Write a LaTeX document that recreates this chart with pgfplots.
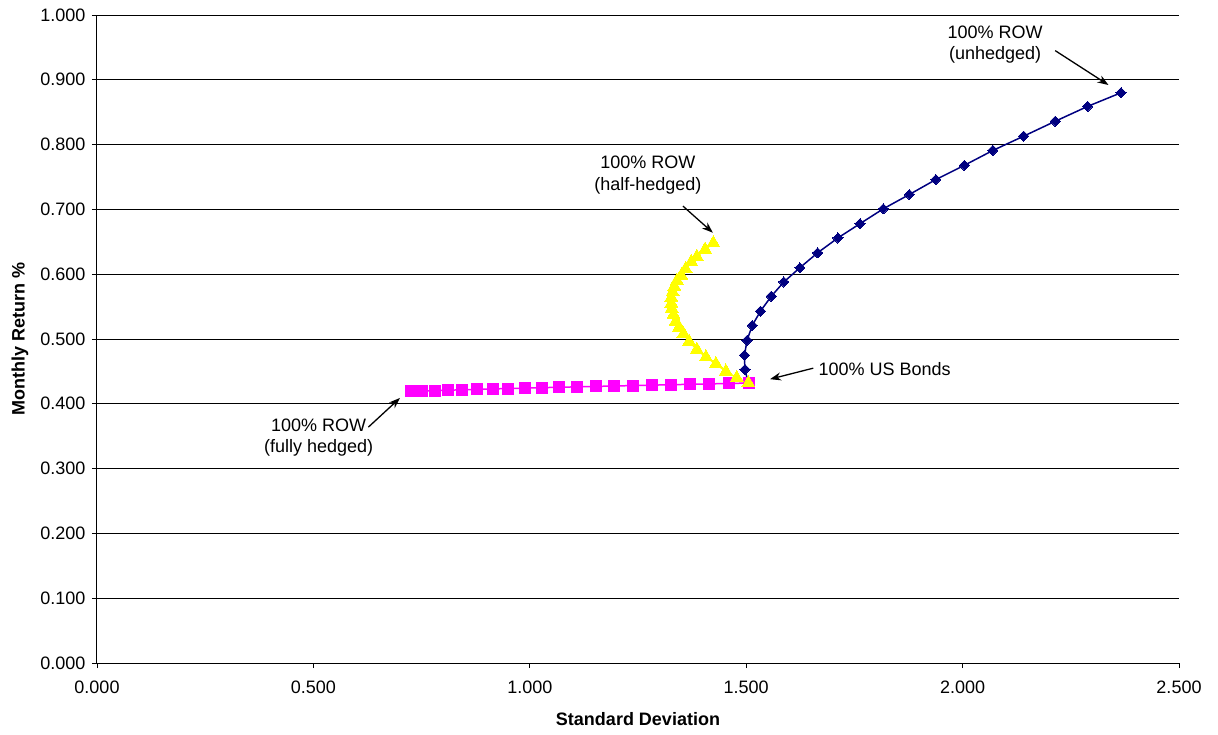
\documentclass[border=0pt]{standalone}
\usepackage{fontspec}
\setmainfont{Liberation Sans}
\usepackage{pgfplots}
\pgfplotsset{compat=1.18}
\usetikzlibrary{arrows.meta}
\definecolor{navyblue}{RGB}{0,0,128}
\definecolor{pinkm}{RGB}{255,0,255}
\definecolor{yell}{RGB}{255,255,0}
\begin{document}
\begin{tikzpicture}
\useasboundingbox (-97pt,-71pt) rectangle (1121pt,663pt);
\begin{axis}[
  at={(0,0)}, anchor=south west,
  scale only axis, width=1082pt, height=648pt,
  xmin=0, xmax=2.5, ymin=0, ymax=1,
  xtick={0,0.5,1,1.5,2,2.5},
  ytick={0,0.1,0.2,0.3,0.4,0.5,0.6,0.7,0.8,0.9,1},
  axis x line*=bottom, axis y line*=left,
  axis line style={-, black, line width=1pt},
  tick align=outside, major tick length=5pt,
  tick style={black, line width=0.8pt},
  ymajorgrids, grid style={black, line width=0.8pt},
  /pgf/number format/.cd, fixed, fixed zerofill, precision=3, assume math mode=true,
  /pgfplots/.cd,
  ticklabel style={font=\fontsize{18}{20}\selectfont},
  xticklabel style={yshift=-9pt},
  yticklabel style={xshift=-3pt},
  xlabel={Standard Deviation},
  ylabel={Monthly Return \%},
  label style={font=\bfseries\fontsize{18}{20}\selectfont},
  xlabel style={at={(axis description cs:0.5,-0.0864)}, anchor=center},
  ylabel style={at={(axis description cs:-0.0712,0.5)}, anchor=center},
  clip=false,
]
\addplot[color=navyblue, line width=1.5pt, mark=square*, mark size=3.6pt,
  mark options={solid, rotate=45, fill=navyblue, draw=navyblue, line width=0pt}] coordinates {
(1.505,0.432)
(1.497,0.453)
(1.496,0.475)
(1.502,0.498)
(1.514,0.521)
(1.533,0.543)
(1.558,0.566)
(1.587,0.588)
(1.624,0.610)
(1.665,0.633)
(1.712,0.656)
(1.763,0.678)
(1.817,0.701)
(1.877,0.723)
(1.938,0.746)
(2.004,0.768)
(2.070,0.791)
(2.141,0.813)
(2.214,0.836)
(2.289,0.859)
(2.366,0.880)
};
\addplot[color=pinkm, line width=1.5pt, mark=square*, mark size=5.5pt,
  mark options={solid, fill=pinkm, draw=pinkm, line width=0pt}] coordinates {
(0.726,0.4190)
(0.750,0.4197)
(0.780,0.4203)
(0.811,0.4210)
(0.844,0.4216)
(0.877,0.4223)
(0.914,0.4229)
(0.950,0.4236)
(0.989,0.4242)
(1.028,0.4249)
(1.068,0.4255)
(1.110,0.4262)
(1.152,0.4268)
(1.195,0.4275)
(1.238,0.4281)
(1.282,0.4288)
(1.326,0.4294)
(1.370,0.4301)
(1.415,0.4307)
(1.460,0.4314)
(1.506,0.4320)
};
\addplot[color=yell, line width=1.5pt, mark=triangle*, mark size=7.5pt,
  mark options={solid, fill=yell, draw=yell, line width=0pt}] coordinates {
(1.505,0.432)
(1.478,0.440)
(1.453,0.450)
(1.430,0.4615)
(1.407,0.472)
(1.386,0.4836)
(1.368,0.496)
(1.355,0.508)
(1.345,0.518)
(1.337,0.527)
(1.332,0.5375)
(1.328,0.547)
(1.327,0.555)
(1.327,0.564)
(1.330,0.5725)
(1.334,0.581)
(1.340,0.590)
(1.350,0.598)
(1.360,0.608)
(1.373,0.619)
(1.386,0.627)
(1.405,0.638)
(1.424,0.648)
};
\tikzset{ann/.style={font=\fontsize{18}{21.5}\selectfont, align=center}}
\node[ann] at (axis cs:2.075,0.9545) {100\% ROW\\(unhedged)};
\draw[-{Stealth[length=11pt,width=8pt]}, line width=1.3pt] (axis cs:2.214,0.945) -- (axis cs:2.337,0.892);
\node[ann] at (axis cs:1.273,0.753) {100\% ROW\\(half-hedged)};
\draw[-{Stealth[length=11pt,width=8pt]}, line width=1.3pt] (axis cs:1.354,0.705) -- (axis cs:1.423,0.664);
\node[ann] at (axis cs:0.512,0.3475) {100\% ROW\\(fully hedged)};
\draw[-{Stealth[length=11pt,width=8pt]}, line width=1.3pt] (axis cs:0.627,0.364) -- (axis cs:0.700,0.409);
\node[ann, anchor=west, inner sep=0pt] at (axis cs:1.667,0.4538) {100\% US Bonds};
\draw[-{Stealth[length=11pt,width=8pt]}, line width=1.3pt] (axis cs:1.655,0.455) -- (axis cs:1.555,0.438);
\end{axis}
\end{tikzpicture}
\end{document}
